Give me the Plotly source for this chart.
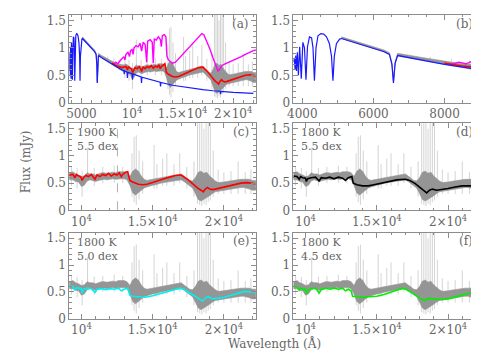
import plotly.graph_objects as go
from plotly.subplots import make_subplots

# ---------------- data ----------------
# white dwarf model (blue), panels a/b
wd_wave = [3750, 3770, 3798, 3815, 3835, 3860, 3889, 3925, 3970, 4015, 4060, 4102,
           4145, 4200, 4260, 4300, 4340, 4385, 4440, 4520, 4600, 4680, 4760, 4820,
           4861, 4900, 4960, 5050, 5100, 5500, 6000, 6300, 6450, 6520, 6563, 6610,
           6680, 7000, 7500, 8000, 8500, 9000, 9200, 9230, 9260, 9500, 9546, 9590,
           10000, 10049, 10100, 10900, 10938, 10980, 12000, 12780, 12818, 12860,
           14000, 15000, 16000, 17000, 18000, 18700, 18751, 18800, 20000, 21000, 22000]
wd_flux = [0.74, 0.82, 0.60, 0.86, 0.58, 0.92, 0.50, 1.02, 0.44, 1.10, 1.00, 0.42,
           1.02, 1.20, 1.18, 1.00, 0.40, 1.00, 1.22, 1.26, 1.25, 1.20, 1.08, 0.85,
           0.40, 0.85, 1.08, 1.16, 1.17, 1.09, 0.99, 0.93, 0.88, 0.70, 0.36, 0.72,
           0.86, 0.82, 0.76, 0.70, 0.65, 0.60, 0.585, 0.52, 0.58, 0.56, 0.45, 0.555,
           0.53, 0.42, 0.525, 0.47, 0.36, 0.465, 0.41, 0.375, 0.30, 0.37,
           0.32, 0.29, 0.265, 0.24, 0.22, 0.21, 0.16, 0.208, 0.19, 0.18, 0.17]

# observed spectrum: dark band (lo/hi envelope)
obs_wave = [5100, 5500, 6000, 6300, 6450, 6520, 6563, 6610, 6680, 7000, 7500, 8000,
            8500, 8800, 9000,
            9200, 9400, 9600, 9800, 10000, 10200, 10400, 10600, 10800, 11000, 11200,
            11400, 11600, 11800, 12000, 12200, 12400, 12600, 12800, 13000, 13200,
            13400, 13600, 13800, 14000, 14200, 14400, 14600, 14800, 15000, 15200,
            15400, 15600, 15800, 16000, 16200, 16400, 16600, 16800, 17000, 17200,
            17400, 17600, 17800, 18000, 18200, 18400, 18600, 18800, 19000, 19200,
            19400, 19600, 19800, 20000, 20200, 20400, 20600, 20800, 21000, 21200,
            21400, 21600, 21800, 22000, 22250]
obs_lo = [1.17, 1.09, 0.99, 0.93, 0.88, 0.70, 0.37, 0.72, 0.86, 0.82, 0.76, 0.70,
          0.64, 0.60, 0.57,
          0.56, 0.56, 0.53, 0.52, 0.44, 0.46, 0.54, 0.56, 0.55, 0.53, 0.55,
          0.56, 0.57, 0.56, 0.57, 0.58, 0.57, 0.58, 0.58, 0.58, 0.56,
          0.46, 0.32, 0.28, 0.32, 0.37, 0.41, 0.43, 0.45, 0.46, 0.47,
          0.49, 0.50, 0.51, 0.52, 0.53, 0.54, 0.55, 0.56, 0.56, 0.53,
          0.49, 0.45, 0.41, 0.31, 0.20, 0.17, 0.20, 0.24, 0.27, 0.31,
          0.34, 0.35, 0.36, 0.37, 0.38, 0.39, 0.40, 0.41, 0.41, 0.42,
          0.42, 0.41, 0.39, 0.37, 0.37]
obs_hi = [1.20, 1.12, 1.02, 0.96, 0.91, 0.73, 0.40, 0.75, 0.90, 0.86, 0.81, 0.76,
          0.71, 0.70, 0.70,
          0.69, 0.71, 0.67, 0.65, 0.62, 0.63, 0.69, 0.67, 0.67, 0.65, 0.67,
          0.69, 0.69, 0.68, 0.69, 0.70, 0.69, 0.71, 0.71, 0.71, 0.69,
          0.62, 0.72, 0.76, 0.72, 0.63, 0.57, 0.55, 0.56, 0.57, 0.58,
          0.59, 0.61, 0.62, 0.63, 0.64, 0.65, 0.66, 0.67, 0.67, 0.63,
          0.59, 0.55, 0.54, 0.60, 0.70, 0.72, 0.68, 0.70, 0.63, 0.58,
          0.54, 0.51, 0.51, 0.52, 0.53, 0.54, 0.55, 0.56, 0.56, 0.57,
          0.57, 0.57, 0.57, 0.55, 0.55]

# observed spectrum: individual noise spikes / telluric residuals
spike_wave = [7600, 8200, 8700, 9300, 9700, 10050, 10430, 10900, 11500,
              12300, 12900, 13550, 13700, 13850, 14050, 14300,
              15100, 15300, 15700, 16000, 16500, 16900, 17400, 17900,
              18150, 18300, 18450, 18600, 18750, 18900, 19050, 19250,
              19600, 20000, 20500, 21000, 21500, 21900]
spike_lo = [0.74, 0.66, 0.60, 0.45, 0.40, 0.25, 0.55, 0.45, 0.50,
            0.50, 0.50, 0.25, 0.15, 0.10, 0.20, 0.30,
            0.40, 0.40, 0.45, 0.45, 0.45, 0.50, 0.40, 0.25,
            0.12, 0.10, 0.08, 0.12, 0.10, 0.15, 0.18, 0.25,
            0.30, 0.30, 0.30, 0.30, 0.30, 0.30]
spike_hi = [0.84, 0.80, 0.78, 0.80, 0.78, 0.72, 1.15, 0.78, 0.80,
            0.82, 0.80, 1.05, 1.35, 1.38, 1.10, 0.90,
            1.20, 0.85, 0.95, 1.05, 0.85, 1.05, 0.80, 0.90,
            1.70, 1.70, 1.70, 1.50, 1.70, 1.70, 1.70, 1.10,
            0.75, 0.70, 0.72, 0.90, 0.70, 0.75]

# composite model 1900 K / 5.5 dex (red)
red_wave = [8000, 8500, 9000, 9200, 9400, 9550, 9650, 9800, 9950,
            10050, 10150, 10300, 10500, 10700, 10900, 10950, 11100, 11300, 11500,
            11700, 11900, 12100, 12300, 12500, 12650, 12800, 12900, 13100, 13250,
            13330, 13400, 13600, 13800, 14000, 14300, 14600, 15000, 15400, 15800,
            16200, 16600, 17000, 17200, 17500, 17800, 18000, 18200, 18400, 18550,
            18700, 18850, 19000, 19200, 19400, 19700, 20000, 20400, 20800, 21200,
            21600, 22000, 22250]
red_flux = [0.72, 0.67, 0.64, 0.65, 0.66, 0.60, 0.66, 0.63, 0.62,
            0.55, 0.60, 0.64, 0.62, 0.66, 0.60, 0.57, 0.65, 0.62, 0.66,
            0.64, 0.68, 0.63, 0.67, 0.65, 0.69, 0.62, 0.66, 0.70, 0.71,
            0.64, 0.55, 0.52, 0.50, 0.48, 0.47, 0.48, 0.51, 0.55, 0.58,
            0.61, 0.64, 0.65, 0.62, 0.56, 0.49, 0.44, 0.40, 0.37, 0.34,
            0.39, 0.42, 0.39, 0.38, 0.39, 0.41, 0.42, 0.45, 0.48, 0.50,
            0.51, 0.49, 0.49]

# alternative model (magenta), panels a/b
mag_wave = [8000, 8200, 8400, 8600, 8800, 9000, 9200, 9300, 9400, 9600, 9750, 9850,
            10000, 10100, 10200, 10400, 10600, 10800, 10950, 11100, 11300, 11450,
            11550, 11800, 12000, 12100, 12200, 12400, 12600, 12800, 12900, 13000,
            13200, 13350, 13450, 13600, 13800, 14000, 14300, 14600, 15000, 15400,
            15800, 16200, 16600, 16900, 17100, 17400, 17700, 18000, 18300, 18500,
            18700, 18900, 19200, 19600, 20000, 20400, 20800, 21200, 21600, 22000, 22250]
mag_flux = [0.72, 0.70, 0.74, 0.71, 0.76, 0.80, 0.84, 0.78, 0.88, 0.92, 0.84, 0.95,
            0.97, 0.88, 1.00, 1.04, 1.02, 1.08, 0.94, 1.10, 1.06, 0.74,
            1.12, 1.15, 1.10, 0.72, 1.16, 1.14, 1.20, 1.15, 1.02, 1.22,
            1.24, 1.20, 0.85, 0.78, 0.74, 0.72, 0.74, 0.80, 0.88, 0.96,
            1.04, 1.12, 1.20, 1.26, 1.24, 1.12, 0.98, 0.82, 0.66, 0.58,
            0.62, 0.68, 0.71, 0.74, 0.78, 0.81, 0.84, 0.88, 0.92, 0.95, 0.96]

# 1800 K / 5.5 dex (black)
blk_wave = [9150, 9400, 9550, 9650, 9800, 10000, 10050, 10150, 10400, 10700, 10950,
            11100, 11400, 11700, 12000, 12300, 12600, 12800, 13000, 13250, 13350,
            13600, 14000, 14400, 14800, 15300, 15800, 16400, 17000, 17300, 17700,
            18000, 18300, 18500, 18700, 18900, 19200, 19600, 20000, 20500, 21000,
            21500, 22000, 22250]
blk_flux = [0.63, 0.62, 0.57, 0.62, 0.60, 0.59, 0.53, 0.58, 0.60, 0.61, 0.54,
            0.60, 0.59, 0.61, 0.58, 0.61, 0.59, 0.55, 0.60, 0.62, 0.50,
            0.47, 0.45, 0.45, 0.47, 0.50, 0.53, 0.56, 0.57, 0.55, 0.49,
            0.43, 0.36, 0.32, 0.37, 0.39, 0.37, 0.38, 0.40, 0.43, 0.45,
            0.45, 0.44, 0.44]

# 1800 K / 5.0 dex (cyan)
cyn_wave = [9150, 9400, 9550, 9650, 9800, 10000, 10050, 10150, 10400, 10700, 10950,
            11100, 11400, 11700, 12000, 12300, 12600, 12800, 13000, 13250, 13400,
            13600, 14000, 14500, 15000, 15500, 16000, 16500, 16900, 17200, 17600,
            17900, 18200, 18500, 18700, 18900, 19200, 19600, 20000, 20400, 20900,
            21400, 22000, 22250]
cyn_flux = [0.61, 0.60, 0.53, 0.58, 0.57, 0.56, 0.47, 0.55, 0.57, 0.56, 0.49,
            0.55, 0.56, 0.54, 0.56, 0.55, 0.57, 0.52, 0.55, 0.57, 0.44,
            0.42, 0.41, 0.40, 0.43, 0.47, 0.51, 0.55, 0.57, 0.55, 0.48,
            0.42, 0.38, 0.33, 0.39, 0.41, 0.37, 0.38, 0.40, 0.43, 0.47,
            0.51, 0.50, 0.50]

# 1800 K / 4.5 dex (green)
grn_wave = [9150, 9400, 9550, 9650, 9800, 10000, 10050, 10150, 10400, 10700, 10950,
            11100, 11400, 11700, 12000, 12300, 12600, 12800, 13000, 13200, 13300,
            13600, 14000, 14500, 15000, 15500, 16000, 16500, 16800, 17100, 17400,
            17800, 18100, 18400, 18600, 18900, 19200, 19600, 20000, 20500, 21000,
            21500, 22000, 22250]
grn_flux = [0.61, 0.59, 0.53, 0.57, 0.56, 0.55, 0.47, 0.53, 0.56, 0.57, 0.48,
            0.54, 0.57, 0.55, 0.57, 0.55, 0.57, 0.52, 0.55, 0.52, 0.42,
            0.41, 0.40, 0.41, 0.42, 0.45, 0.49, 0.54, 0.57, 0.54, 0.49,
            0.42, 0.37, 0.34, 0.38, 0.37, 0.36, 0.36, 0.37, 0.40, 0.44,
            0.48, 0.50, 0.50]

c_dash_wave = 12530

panel_labels = ['(a)', '(b)', '(c)', '(d)', '(e)', '(f)']
panel_params = {3: '1900 K<br>5.5 dex', 4: '1800 K<br>5.5 dex',
                5: '1800 K<br>5.0 dex', 6: '1800 K<br>4.5 dex'}

FONT = 'DejaVu Serif, Liberation Serif, serif'
TXT = '#666666'
FRAME = '#8c8c8c'
BAND = '#959595'
SPIKE = '#c2c2c2'

fig = make_subplots(rows=3, cols=2)
cells = [(1, 1), (1, 2), (2, 1), (2, 2), (3, 1), (3, 2)]


def add_obs(row, col):
    sx, sy = [], []
    for w, lo, hi in zip(spike_wave, spike_lo, spike_hi):
        sx += [w, w, None]
        sy += [lo, hi, None]
    fig.add_trace(go.Scatter(x=sx, y=sy, mode='lines', line=dict(color=SPIKE, width=0.7),
                             hoverinfo='skip'), row=row, col=col)
    fig.add_trace(go.Scatter(x=obs_wave, y=obs_lo, mode='lines',
                             line=dict(color=BAND, width=0.6), hoverinfo='skip'),
                  row=row, col=col)
    fig.add_trace(go.Scatter(x=obs_wave, y=obs_hi, mode='lines', fill='tonexty',
                             fillcolor=BAND, line=dict(color=BAND, width=0.6),
                             hoverinfo='skip'), row=row, col=col)


def add_model(x, y, color, row, col, width=1.3):
    fig.add_trace(go.Scatter(x=x, y=y, mode='lines', line=dict(color=color, width=width)),
                  row=row, col=col)


# top row: full range and blue zoom
for col in (1, 2):
    add_obs(1, col)
    add_model(mag_wave, mag_flux, '#ff00ff', 1, col, 1.4)
    add_model(red_wave, red_flux, '#ff0000', 1, col, 1.6)
    add_model(wd_wave, wd_flux, '#1a1aff', 1, col, 1.2)

# lower panels: one model each
for (row, col), (wx, fy, colr) in zip(cells[2:], [(red_wave, red_flux, '#ff0000'),
                                                  (blk_wave, blk_flux, '#000000'),
                                                  (cyn_wave, cyn_flux, '#00f0f0'),
                                                  (grn_wave, grn_flux, '#00ee00')]):
    add_obs(row, col)
    add_model(wx, fy, colr, row, col, 1.6)

fig.add_shape(type='line', x0=c_dash_wave, x1=c_dash_wave, y0=0, y1=1,
              xref='x3', yref='y3 domain', layer='below',
              line=dict(color='#b0b0b0', width=1, dash='dash'))

W, H = 479, 351
xdom = {1: [56 / W, 245 / W], 2: [283 / W, 472 / W]}
ydom = {1: [1 - 96 / H, 1 - 6 / H], 2: [1 - 206 / H, 1 - 117 / H], 3: [1 - 317 / H, 1 - 229 / H]}

axis_common = dict(showline=True, linecolor=FRAME, linewidth=1, mirror='allticks',
                   ticks='inside', ticklen=5, tickcolor=FRAME, showgrid=False,
                   zeroline=False, tickfont=dict(family=FONT, size=12, color=TXT))

for i, (row, col) in enumerate(cells):
    n = i + 1
    sfx = '' if n == 1 else str(n)
    if n == 1:
        xr, tv, tt, md = [3800, 22250], [5000, 10000, 15000, 20000], \
            ['5000', '10<sup>4</sup>', '1.5×10<sup>4</sup>', '2×10<sup>4</sup>'], 1000
    elif n == 2:
        xr, tv, tt, md = [3750, 9000], [4000, 6000, 8000], ['4000', '6000', '8000'], 500
    else:
        xr, tv, tt, md = [9150, 22250], [10000, 15000, 20000], \
            ['10<sup>4</sup>', '1.5×10<sup>4</sup>', '2×10<sup>4</sup>'], 1000
    fig.layout['xaxis' + sfx].update(
        domain=xdom[col], range=xr, tickmode='array', tickvals=tv, ticktext=tt,
        minor=dict(ticks='inside', dtick=md, tick0=0, ticklen=2.5, tickcolor=FRAME),
        **axis_common)
    fig.layout['yaxis' + sfx].update(
        domain=ydom[row], range=[0, 1.6], tickmode='array', tickvals=[0, 0.5, 1, 1.5],
        ticktext=['0', '0.5', '1', '1.5'],
        minor=dict(ticks='inside', dtick=0.1, tick0=0, ticklen=2.5, tickcolor=FRAME),
        **axis_common)

    xref = 'x' + sfx + ' domain'
    yref = 'y' + sfx + ' domain'
    fig.add_annotation(text=panel_labels[i], xref=xref, yref=yref, x=0.975, y=0.9,
                       xanchor='right', yanchor='middle', showarrow=False,
                       font=dict(family=FONT, size=12, color=TXT))
    if n in panel_params:
        fig.add_annotation(text=panel_params[n], xref=xref, yref=yref, x=0.03, y=0.99,
                           xanchor='left', yanchor='top', align='left', showarrow=False,
                           font=dict(family=FONT, size=11, color=TXT))

fig.add_annotation(text='Flux (mJy)', xref='paper', yref='paper', x=13 / W, y=1 - 156 / H,
                   textangle=-90, showarrow=False, xanchor='center', yanchor='middle',
                   font=dict(family=FONT, size=12, color=TXT))
fig.add_annotation(text='Wavelength (Å)', xref='paper', yref='paper', x=264 / W,
                   y=1 - 342 / H, showarrow=False, xanchor='center', yanchor='middle',
                   font=dict(family=FONT, size=12, color=TXT))

fig.update_layout(width=W, height=H, margin=dict(l=0, r=0, t=0, b=0),
                  paper_bgcolor='white', plot_bgcolor='white', showlegend=False)

fig.write_html('out.html')
